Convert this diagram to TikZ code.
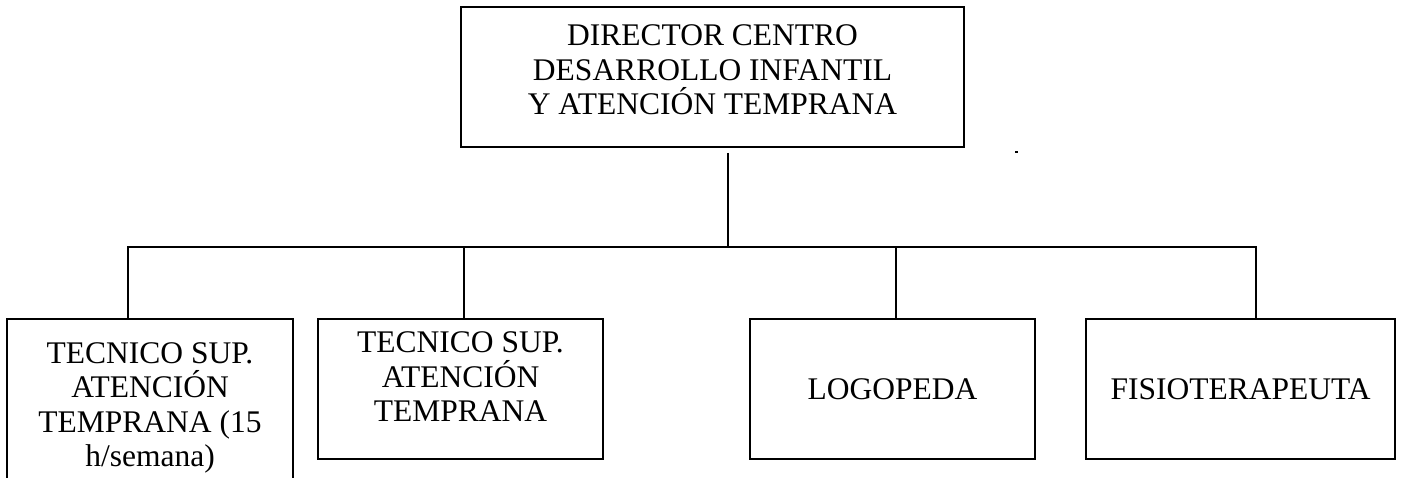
\documentclass[tikz,border=0pt]{standalone}
\usepackage{fontspec}
\setmainfont{Liberation Serif}
\tikzstyle{post} = [rectangle, draw=black, line width=1.6pt, align=center, inner sep=0pt, font=\fontsize{31.5}{34.5}\selectfont]
\tikzstyle{link} = [line width=1.6pt]

\begin{document}
\begin{tikzpicture}[x=1pt, y=-1pt]
        \useasboundingbox (0,0) rectangle (1402,477);
        \node (dir) [post, minimum width=503, minimum height=140, text depth=14pt] at (712.5,77) {DIRECTOR CENTRO\\DESARROLLO INFANTIL\\Y ATENCIÓN TEMPRANA};
        \node (tec1) [post, minimum width=286, minimum height=191, text depth=20pt] at (150,414.5) {TECNICO SUP.\\ATENCIÓN\\TEMPRANA (15\\h/semana)};
        \node (tec2) [post, minimum width=285, minimum height=140, text depth=24pt] at (460.5,389) {TECNICO SUP.\\ATENCIÓN\\TEMPRANA};
        \node (logo) [post, minimum width=285, minimum height=140] at (892.5,389) {LOGOPEDA};
        \node (fisio) [post, minimum width=309, minimum height=140] at (1240.5,389) {FISIOTERAPEUTA};
        \coordinate (hub) at (728,247);
        \coordinate (j1) at (128,247);
        \coordinate (j2) at (464,247);
        \coordinate (j3) at (896,247);
        \coordinate (j4) at (1256,247);
        \draw [link] ([yshift=-5pt]dir.south -| hub) -- (hub);
        \draw [link] (j1 |- tec1.north) -- (j1) -- (j4) -- (j4 |- fisio.north);
        \draw [link] (j2) -- (j2 |- tec2.north);
        \draw [link] (j3) -- (j3 |- logo.north);
        \fill (1014.5,151) rectangle (1017.5,153);
    \end{tikzpicture}
\end{document}
